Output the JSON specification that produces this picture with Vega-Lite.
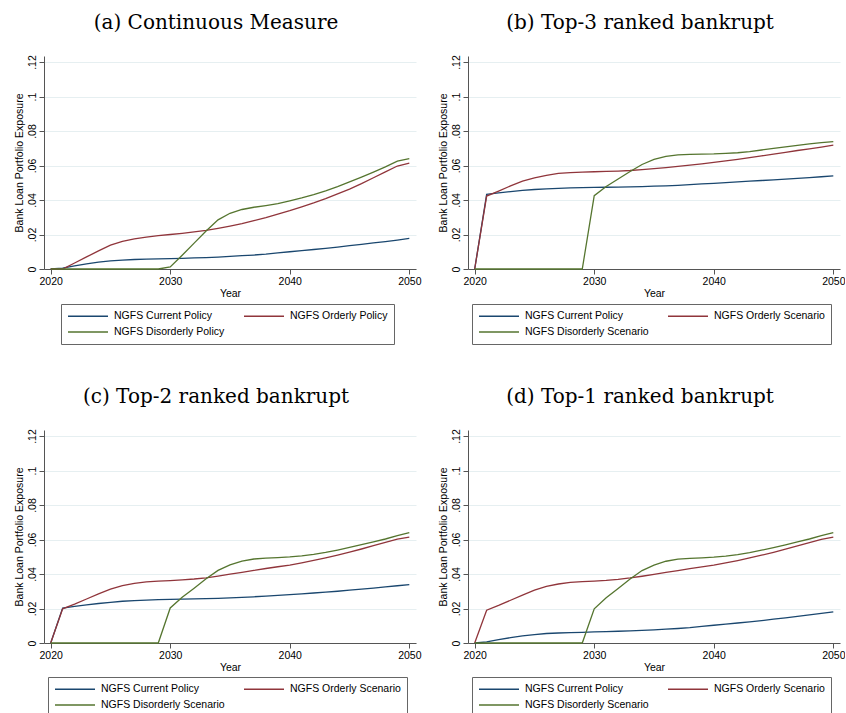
{
  "$schema": "https://vega.github.io/schema/vega-lite/v6.json",
  "background": "white",
  "padding": {"left": 14, "top": 12, "right": 0, "bottom": 0},
  "datasets": {
    "a": [
      {"Year":2020,"Series":"NGFS Current Policy","Exposure":0},
      {"Year":2021,"Series":"NGFS Current Policy","Exposure":0.0005},
      {"Year":2022,"Series":"NGFS Current Policy","Exposure":0.0018},
      {"Year":2023,"Series":"NGFS Current Policy","Exposure":0.003},
      {"Year":2024,"Series":"NGFS Current Policy","Exposure":0.004},
      {"Year":2025,"Series":"NGFS Current Policy","Exposure":0.0047},
      {"Year":2026,"Series":"NGFS Current Policy","Exposure":0.0052},
      {"Year":2027,"Series":"NGFS Current Policy","Exposure":0.0055},
      {"Year":2028,"Series":"NGFS Current Policy","Exposure":0.0057},
      {"Year":2029,"Series":"NGFS Current Policy","Exposure":0.0059},
      {"Year":2030,"Series":"NGFS Current Policy","Exposure":0.006},
      {"Year":2031,"Series":"NGFS Current Policy","Exposure":0.0062},
      {"Year":2032,"Series":"NGFS Current Policy","Exposure":0.0064},
      {"Year":2033,"Series":"NGFS Current Policy","Exposure":0.0066},
      {"Year":2034,"Series":"NGFS Current Policy","Exposure":0.0069},
      {"Year":2035,"Series":"NGFS Current Policy","Exposure":0.0073},
      {"Year":2036,"Series":"NGFS Current Policy","Exposure":0.0077},
      {"Year":2037,"Series":"NGFS Current Policy","Exposure":0.0081},
      {"Year":2038,"Series":"NGFS Current Policy","Exposure":0.0086},
      {"Year":2039,"Series":"NGFS Current Policy","Exposure":0.0093},
      {"Year":2040,"Series":"NGFS Current Policy","Exposure":0.01},
      {"Year":2041,"Series":"NGFS Current Policy","Exposure":0.0106},
      {"Year":2042,"Series":"NGFS Current Policy","Exposure":0.0113},
      {"Year":2043,"Series":"NGFS Current Policy","Exposure":0.012},
      {"Year":2044,"Series":"NGFS Current Policy","Exposure":0.0127},
      {"Year":2045,"Series":"NGFS Current Policy","Exposure":0.0135},
      {"Year":2046,"Series":"NGFS Current Policy","Exposure":0.0143},
      {"Year":2047,"Series":"NGFS Current Policy","Exposure":0.0151},
      {"Year":2048,"Series":"NGFS Current Policy","Exposure":0.0159},
      {"Year":2049,"Series":"NGFS Current Policy","Exposure":0.0168},
      {"Year":2050,"Series":"NGFS Current Policy","Exposure":0.0177},
      {"Year":2020,"Series":"NGFS Orderly Policy","Exposure":0},
      {"Year":2021,"Series":"NGFS Orderly Policy","Exposure":0},
      {"Year":2022,"Series":"NGFS Orderly Policy","Exposure":0.0035},
      {"Year":2023,"Series":"NGFS Orderly Policy","Exposure":0.007},
      {"Year":2024,"Series":"NGFS Orderly Policy","Exposure":0.0105},
      {"Year":2025,"Series":"NGFS Orderly Policy","Exposure":0.0138},
      {"Year":2026,"Series":"NGFS Orderly Policy","Exposure":0.016},
      {"Year":2027,"Series":"NGFS Orderly Policy","Exposure":0.0175},
      {"Year":2028,"Series":"NGFS Orderly Policy","Exposure":0.0185},
      {"Year":2029,"Series":"NGFS Orderly Policy","Exposure":0.0193},
      {"Year":2030,"Series":"NGFS Orderly Policy","Exposure":0.02},
      {"Year":2031,"Series":"NGFS Orderly Policy","Exposure":0.0207},
      {"Year":2032,"Series":"NGFS Orderly Policy","Exposure":0.0215},
      {"Year":2033,"Series":"NGFS Orderly Policy","Exposure":0.0224},
      {"Year":2034,"Series":"NGFS Orderly Policy","Exposure":0.0236},
      {"Year":2035,"Series":"NGFS Orderly Policy","Exposure":0.0249},
      {"Year":2036,"Series":"NGFS Orderly Policy","Exposure":0.0263},
      {"Year":2037,"Series":"NGFS Orderly Policy","Exposure":0.028},
      {"Year":2038,"Series":"NGFS Orderly Policy","Exposure":0.0298},
      {"Year":2039,"Series":"NGFS Orderly Policy","Exposure":0.0318},
      {"Year":2040,"Series":"NGFS Orderly Policy","Exposure":0.0338},
      {"Year":2041,"Series":"NGFS Orderly Policy","Exposure":0.036},
      {"Year":2042,"Series":"NGFS Orderly Policy","Exposure":0.0383},
      {"Year":2043,"Series":"NGFS Orderly Policy","Exposure":0.0408},
      {"Year":2044,"Series":"NGFS Orderly Policy","Exposure":0.0435},
      {"Year":2045,"Series":"NGFS Orderly Policy","Exposure":0.0463},
      {"Year":2046,"Series":"NGFS Orderly Policy","Exposure":0.0495},
      {"Year":2047,"Series":"NGFS Orderly Policy","Exposure":0.0529},
      {"Year":2048,"Series":"NGFS Orderly Policy","Exposure":0.0563},
      {"Year":2049,"Series":"NGFS Orderly Policy","Exposure":0.0597},
      {"Year":2050,"Series":"NGFS Orderly Policy","Exposure":0.0614},
      {"Year":2020,"Series":"NGFS Disorderly Policy","Exposure":0},
      {"Year":2021,"Series":"NGFS Disorderly Policy","Exposure":0},
      {"Year":2022,"Series":"NGFS Disorderly Policy","Exposure":0},
      {"Year":2023,"Series":"NGFS Disorderly Policy","Exposure":0},
      {"Year":2024,"Series":"NGFS Disorderly Policy","Exposure":0},
      {"Year":2025,"Series":"NGFS Disorderly Policy","Exposure":0},
      {"Year":2026,"Series":"NGFS Disorderly Policy","Exposure":0},
      {"Year":2027,"Series":"NGFS Disorderly Policy","Exposure":0},
      {"Year":2028,"Series":"NGFS Disorderly Policy","Exposure":0},
      {"Year":2029,"Series":"NGFS Disorderly Policy","Exposure":0},
      {"Year":2030,"Series":"NGFS Disorderly Policy","Exposure":0.0012},
      {"Year":2031,"Series":"NGFS Disorderly Policy","Exposure":0.008},
      {"Year":2032,"Series":"NGFS Disorderly Policy","Exposure":0.015},
      {"Year":2033,"Series":"NGFS Disorderly Policy","Exposure":0.022},
      {"Year":2034,"Series":"NGFS Disorderly Policy","Exposure":0.0285},
      {"Year":2035,"Series":"NGFS Disorderly Policy","Exposure":0.0323},
      {"Year":2036,"Series":"NGFS Disorderly Policy","Exposure":0.0345},
      {"Year":2037,"Series":"NGFS Disorderly Policy","Exposure":0.0358},
      {"Year":2038,"Series":"NGFS Disorderly Policy","Exposure":0.0368},
      {"Year":2039,"Series":"NGFS Disorderly Policy","Exposure":0.0379},
      {"Year":2040,"Series":"NGFS Disorderly Policy","Exposure":0.0395},
      {"Year":2041,"Series":"NGFS Disorderly Policy","Exposure":0.0412},
      {"Year":2042,"Series":"NGFS Disorderly Policy","Exposure":0.0431},
      {"Year":2043,"Series":"NGFS Disorderly Policy","Exposure":0.0453},
      {"Year":2044,"Series":"NGFS Disorderly Policy","Exposure":0.0478},
      {"Year":2045,"Series":"NGFS Disorderly Policy","Exposure":0.0505},
      {"Year":2046,"Series":"NGFS Disorderly Policy","Exposure":0.0533},
      {"Year":2047,"Series":"NGFS Disorderly Policy","Exposure":0.0562},
      {"Year":2048,"Series":"NGFS Disorderly Policy","Exposure":0.0592},
      {"Year":2049,"Series":"NGFS Disorderly Policy","Exposure":0.0625},
      {"Year":2050,"Series":"NGFS Disorderly Policy","Exposure":0.064}
    ],
    "b": [
      {"Year":2020,"Series":"NGFS Current Policy","Exposure":0},
      {"Year":2021,"Series":"NGFS Current Policy","Exposure":0.0433},
      {"Year":2022,"Series":"NGFS Current Policy","Exposure":0.0441},
      {"Year":2023,"Series":"NGFS Current Policy","Exposure":0.0449},
      {"Year":2024,"Series":"NGFS Current Policy","Exposure":0.0456},
      {"Year":2025,"Series":"NGFS Current Policy","Exposure":0.0461},
      {"Year":2026,"Series":"NGFS Current Policy","Exposure":0.0465},
      {"Year":2027,"Series":"NGFS Current Policy","Exposure":0.0468},
      {"Year":2028,"Series":"NGFS Current Policy","Exposure":0.047},
      {"Year":2029,"Series":"NGFS Current Policy","Exposure":0.0472},
      {"Year":2030,"Series":"NGFS Current Policy","Exposure":0.0473},
      {"Year":2031,"Series":"NGFS Current Policy","Exposure":0.0474},
      {"Year":2032,"Series":"NGFS Current Policy","Exposure":0.0475},
      {"Year":2033,"Series":"NGFS Current Policy","Exposure":0.0476},
      {"Year":2034,"Series":"NGFS Current Policy","Exposure":0.0478},
      {"Year":2035,"Series":"NGFS Current Policy","Exposure":0.048},
      {"Year":2036,"Series":"NGFS Current Policy","Exposure":0.0482},
      {"Year":2037,"Series":"NGFS Current Policy","Exposure":0.0485},
      {"Year":2038,"Series":"NGFS Current Policy","Exposure":0.0489},
      {"Year":2039,"Series":"NGFS Current Policy","Exposure":0.0493},
      {"Year":2040,"Series":"NGFS Current Policy","Exposure":0.0497},
      {"Year":2041,"Series":"NGFS Current Policy","Exposure":0.0501},
      {"Year":2042,"Series":"NGFS Current Policy","Exposure":0.0505},
      {"Year":2043,"Series":"NGFS Current Policy","Exposure":0.0509},
      {"Year":2044,"Series":"NGFS Current Policy","Exposure":0.0513},
      {"Year":2045,"Series":"NGFS Current Policy","Exposure":0.0517},
      {"Year":2046,"Series":"NGFS Current Policy","Exposure":0.0521},
      {"Year":2047,"Series":"NGFS Current Policy","Exposure":0.0526},
      {"Year":2048,"Series":"NGFS Current Policy","Exposure":0.053},
      {"Year":2049,"Series":"NGFS Current Policy","Exposure":0.0535},
      {"Year":2050,"Series":"NGFS Current Policy","Exposure":0.054},
      {"Year":2020,"Series":"NGFS Orderly Scenario","Exposure":0},
      {"Year":2021,"Series":"NGFS Orderly Scenario","Exposure":0.0423},
      {"Year":2022,"Series":"NGFS Orderly Scenario","Exposure":0.0452},
      {"Year":2023,"Series":"NGFS Orderly Scenario","Exposure":0.0482},
      {"Year":2024,"Series":"NGFS Orderly Scenario","Exposure":0.051},
      {"Year":2025,"Series":"NGFS Orderly Scenario","Exposure":0.0528},
      {"Year":2026,"Series":"NGFS Orderly Scenario","Exposure":0.0543},
      {"Year":2027,"Series":"NGFS Orderly Scenario","Exposure":0.0554},
      {"Year":2028,"Series":"NGFS Orderly Scenario","Exposure":0.0559},
      {"Year":2029,"Series":"NGFS Orderly Scenario","Exposure":0.0562},
      {"Year":2030,"Series":"NGFS Orderly Scenario","Exposure":0.0564},
      {"Year":2031,"Series":"NGFS Orderly Scenario","Exposure":0.0566},
      {"Year":2032,"Series":"NGFS Orderly Scenario","Exposure":0.0568},
      {"Year":2033,"Series":"NGFS Orderly Scenario","Exposure":0.0571},
      {"Year":2034,"Series":"NGFS Orderly Scenario","Exposure":0.0576},
      {"Year":2035,"Series":"NGFS Orderly Scenario","Exposure":0.0582},
      {"Year":2036,"Series":"NGFS Orderly Scenario","Exposure":0.0588},
      {"Year":2037,"Series":"NGFS Orderly Scenario","Exposure":0.0595},
      {"Year":2038,"Series":"NGFS Orderly Scenario","Exposure":0.0602},
      {"Year":2039,"Series":"NGFS Orderly Scenario","Exposure":0.061},
      {"Year":2040,"Series":"NGFS Orderly Scenario","Exposure":0.0618},
      {"Year":2041,"Series":"NGFS Orderly Scenario","Exposure":0.0627},
      {"Year":2042,"Series":"NGFS Orderly Scenario","Exposure":0.0636},
      {"Year":2043,"Series":"NGFS Orderly Scenario","Exposure":0.0646},
      {"Year":2044,"Series":"NGFS Orderly Scenario","Exposure":0.0656},
      {"Year":2045,"Series":"NGFS Orderly Scenario","Exposure":0.0666},
      {"Year":2046,"Series":"NGFS Orderly Scenario","Exposure":0.0676},
      {"Year":2047,"Series":"NGFS Orderly Scenario","Exposure":0.0687},
      {"Year":2048,"Series":"NGFS Orderly Scenario","Exposure":0.0697},
      {"Year":2049,"Series":"NGFS Orderly Scenario","Exposure":0.0707},
      {"Year":2050,"Series":"NGFS Orderly Scenario","Exposure":0.0718},
      {"Year":2020,"Series":"NGFS Disorderly Scenario","Exposure":0},
      {"Year":2021,"Series":"NGFS Disorderly Scenario","Exposure":0},
      {"Year":2022,"Series":"NGFS Disorderly Scenario","Exposure":0},
      {"Year":2023,"Series":"NGFS Disorderly Scenario","Exposure":0},
      {"Year":2024,"Series":"NGFS Disorderly Scenario","Exposure":0},
      {"Year":2025,"Series":"NGFS Disorderly Scenario","Exposure":0},
      {"Year":2026,"Series":"NGFS Disorderly Scenario","Exposure":0},
      {"Year":2027,"Series":"NGFS Disorderly Scenario","Exposure":0},
      {"Year":2028,"Series":"NGFS Disorderly Scenario","Exposure":0},
      {"Year":2029,"Series":"NGFS Disorderly Scenario","Exposure":0},
      {"Year":2030,"Series":"NGFS Disorderly Scenario","Exposure":0.0425},
      {"Year":2031,"Series":"NGFS Disorderly Scenario","Exposure":0.0478},
      {"Year":2032,"Series":"NGFS Disorderly Scenario","Exposure":0.0522},
      {"Year":2033,"Series":"NGFS Disorderly Scenario","Exposure":0.0565},
      {"Year":2034,"Series":"NGFS Disorderly Scenario","Exposure":0.0606},
      {"Year":2035,"Series":"NGFS Disorderly Scenario","Exposure":0.0635},
      {"Year":2036,"Series":"NGFS Disorderly Scenario","Exposure":0.0653},
      {"Year":2037,"Series":"NGFS Disorderly Scenario","Exposure":0.0662},
      {"Year":2038,"Series":"NGFS Disorderly Scenario","Exposure":0.0665},
      {"Year":2039,"Series":"NGFS Disorderly Scenario","Exposure":0.0666},
      {"Year":2040,"Series":"NGFS Disorderly Scenario","Exposure":0.0667},
      {"Year":2041,"Series":"NGFS Disorderly Scenario","Exposure":0.067},
      {"Year":2042,"Series":"NGFS Disorderly Scenario","Exposure":0.0674},
      {"Year":2043,"Series":"NGFS Disorderly Scenario","Exposure":0.0681},
      {"Year":2044,"Series":"NGFS Disorderly Scenario","Exposure":0.069},
      {"Year":2045,"Series":"NGFS Disorderly Scenario","Exposure":0.0699},
      {"Year":2046,"Series":"NGFS Disorderly Scenario","Exposure":0.0708},
      {"Year":2047,"Series":"NGFS Disorderly Scenario","Exposure":0.0717},
      {"Year":2048,"Series":"NGFS Disorderly Scenario","Exposure":0.0725},
      {"Year":2049,"Series":"NGFS Disorderly Scenario","Exposure":0.0733},
      {"Year":2050,"Series":"NGFS Disorderly Scenario","Exposure":0.0739}
    ],
    "c": [
      {"Year":2020,"Series":"NGFS Current Policy","Exposure":0},
      {"Year":2021,"Series":"NGFS Current Policy","Exposure":0.0203},
      {"Year":2022,"Series":"NGFS Current Policy","Exposure":0.0212},
      {"Year":2023,"Series":"NGFS Current Policy","Exposure":0.0221},
      {"Year":2024,"Series":"NGFS Current Policy","Exposure":0.0229},
      {"Year":2025,"Series":"NGFS Current Policy","Exposure":0.0236},
      {"Year":2026,"Series":"NGFS Current Policy","Exposure":0.0242},
      {"Year":2027,"Series":"NGFS Current Policy","Exposure":0.0246},
      {"Year":2028,"Series":"NGFS Current Policy","Exposure":0.0249},
      {"Year":2029,"Series":"NGFS Current Policy","Exposure":0.0251},
      {"Year":2030,"Series":"NGFS Current Policy","Exposure":0.0253},
      {"Year":2031,"Series":"NGFS Current Policy","Exposure":0.0254},
      {"Year":2032,"Series":"NGFS Current Policy","Exposure":0.0256},
      {"Year":2033,"Series":"NGFS Current Policy","Exposure":0.0257},
      {"Year":2034,"Series":"NGFS Current Policy","Exposure":0.0259},
      {"Year":2035,"Series":"NGFS Current Policy","Exposure":0.0262},
      {"Year":2036,"Series":"NGFS Current Policy","Exposure":0.0265},
      {"Year":2037,"Series":"NGFS Current Policy","Exposure":0.0268},
      {"Year":2038,"Series":"NGFS Current Policy","Exposure":0.0272},
      {"Year":2039,"Series":"NGFS Current Policy","Exposure":0.0276},
      {"Year":2040,"Series":"NGFS Current Policy","Exposure":0.028},
      {"Year":2041,"Series":"NGFS Current Policy","Exposure":0.0285},
      {"Year":2042,"Series":"NGFS Current Policy","Exposure":0.029},
      {"Year":2043,"Series":"NGFS Current Policy","Exposure":0.0295},
      {"Year":2044,"Series":"NGFS Current Policy","Exposure":0.03},
      {"Year":2045,"Series":"NGFS Current Policy","Exposure":0.0306},
      {"Year":2046,"Series":"NGFS Current Policy","Exposure":0.0312},
      {"Year":2047,"Series":"NGFS Current Policy","Exposure":0.0318},
      {"Year":2048,"Series":"NGFS Current Policy","Exposure":0.0325},
      {"Year":2049,"Series":"NGFS Current Policy","Exposure":0.0332},
      {"Year":2050,"Series":"NGFS Current Policy","Exposure":0.0339},
      {"Year":2020,"Series":"NGFS Orderly Scenario","Exposure":0},
      {"Year":2021,"Series":"NGFS Orderly Scenario","Exposure":0.0198},
      {"Year":2022,"Series":"NGFS Orderly Scenario","Exposure":0.0225},
      {"Year":2023,"Series":"NGFS Orderly Scenario","Exposure":0.0255},
      {"Year":2024,"Series":"NGFS Orderly Scenario","Exposure":0.0285},
      {"Year":2025,"Series":"NGFS Orderly Scenario","Exposure":0.0312},
      {"Year":2026,"Series":"NGFS Orderly Scenario","Exposure":0.0333},
      {"Year":2027,"Series":"NGFS Orderly Scenario","Exposure":0.0346},
      {"Year":2028,"Series":"NGFS Orderly Scenario","Exposure":0.0354},
      {"Year":2029,"Series":"NGFS Orderly Scenario","Exposure":0.0359},
      {"Year":2030,"Series":"NGFS Orderly Scenario","Exposure":0.0362},
      {"Year":2031,"Series":"NGFS Orderly Scenario","Exposure":0.0366},
      {"Year":2032,"Series":"NGFS Orderly Scenario","Exposure":0.0371},
      {"Year":2033,"Series":"NGFS Orderly Scenario","Exposure":0.0378},
      {"Year":2034,"Series":"NGFS Orderly Scenario","Exposure":0.0388},
      {"Year":2035,"Series":"NGFS Orderly Scenario","Exposure":0.0399},
      {"Year":2036,"Series":"NGFS Orderly Scenario","Exposure":0.041},
      {"Year":2037,"Series":"NGFS Orderly Scenario","Exposure":0.0421},
      {"Year":2038,"Series":"NGFS Orderly Scenario","Exposure":0.0432},
      {"Year":2039,"Series":"NGFS Orderly Scenario","Exposure":0.0442},
      {"Year":2040,"Series":"NGFS Orderly Scenario","Exposure":0.0452},
      {"Year":2041,"Series":"NGFS Orderly Scenario","Exposure":0.0465},
      {"Year":2042,"Series":"NGFS Orderly Scenario","Exposure":0.0479},
      {"Year":2043,"Series":"NGFS Orderly Scenario","Exposure":0.0494},
      {"Year":2044,"Series":"NGFS Orderly Scenario","Exposure":0.051},
      {"Year":2045,"Series":"NGFS Orderly Scenario","Exposure":0.0527},
      {"Year":2046,"Series":"NGFS Orderly Scenario","Exposure":0.0545},
      {"Year":2047,"Series":"NGFS Orderly Scenario","Exposure":0.0564},
      {"Year":2048,"Series":"NGFS Orderly Scenario","Exposure":0.0583},
      {"Year":2049,"Series":"NGFS Orderly Scenario","Exposure":0.0602},
      {"Year":2050,"Series":"NGFS Orderly Scenario","Exposure":0.0614},
      {"Year":2020,"Series":"NGFS Disorderly Scenario","Exposure":0},
      {"Year":2021,"Series":"NGFS Disorderly Scenario","Exposure":0},
      {"Year":2022,"Series":"NGFS Disorderly Scenario","Exposure":0},
      {"Year":2023,"Series":"NGFS Disorderly Scenario","Exposure":0},
      {"Year":2024,"Series":"NGFS Disorderly Scenario","Exposure":0},
      {"Year":2025,"Series":"NGFS Disorderly Scenario","Exposure":0},
      {"Year":2026,"Series":"NGFS Disorderly Scenario","Exposure":0},
      {"Year":2027,"Series":"NGFS Disorderly Scenario","Exposure":0},
      {"Year":2028,"Series":"NGFS Disorderly Scenario","Exposure":0},
      {"Year":2029,"Series":"NGFS Disorderly Scenario","Exposure":0},
      {"Year":2030,"Series":"NGFS Disorderly Scenario","Exposure":0.0203},
      {"Year":2031,"Series":"NGFS Disorderly Scenario","Exposure":0.0265},
      {"Year":2032,"Series":"NGFS Disorderly Scenario","Exposure":0.0318},
      {"Year":2033,"Series":"NGFS Disorderly Scenario","Exposure":0.0372},
      {"Year":2034,"Series":"NGFS Disorderly Scenario","Exposure":0.0421},
      {"Year":2035,"Series":"NGFS Disorderly Scenario","Exposure":0.0453},
      {"Year":2036,"Series":"NGFS Disorderly Scenario","Exposure":0.0475},
      {"Year":2037,"Series":"NGFS Disorderly Scenario","Exposure":0.0487},
      {"Year":2038,"Series":"NGFS Disorderly Scenario","Exposure":0.0492},
      {"Year":2039,"Series":"NGFS Disorderly Scenario","Exposure":0.0495},
      {"Year":2040,"Series":"NGFS Disorderly Scenario","Exposure":0.0499},
      {"Year":2041,"Series":"NGFS Disorderly Scenario","Exposure":0.0505},
      {"Year":2042,"Series":"NGFS Disorderly Scenario","Exposure":0.0514},
      {"Year":2043,"Series":"NGFS Disorderly Scenario","Exposure":0.0525},
      {"Year":2044,"Series":"NGFS Disorderly Scenario","Exposure":0.0539},
      {"Year":2045,"Series":"NGFS Disorderly Scenario","Exposure":0.0554},
      {"Year":2046,"Series":"NGFS Disorderly Scenario","Exposure":0.057},
      {"Year":2047,"Series":"NGFS Disorderly Scenario","Exposure":0.0586},
      {"Year":2048,"Series":"NGFS Disorderly Scenario","Exposure":0.0603},
      {"Year":2049,"Series":"NGFS Disorderly Scenario","Exposure":0.0622},
      {"Year":2050,"Series":"NGFS Disorderly Scenario","Exposure":0.064}
    ],
    "d": [
      {"Year":2020,"Series":"NGFS Current Policy","Exposure":0},
      {"Year":2021,"Series":"NGFS Current Policy","Exposure":0.0007},
      {"Year":2022,"Series":"NGFS Current Policy","Exposure":0.0019},
      {"Year":2023,"Series":"NGFS Current Policy","Exposure":0.0031},
      {"Year":2024,"Series":"NGFS Current Policy","Exposure":0.0041},
      {"Year":2025,"Series":"NGFS Current Policy","Exposure":0.0049},
      {"Year":2026,"Series":"NGFS Current Policy","Exposure":0.0055},
      {"Year":2027,"Series":"NGFS Current Policy","Exposure":0.0058},
      {"Year":2028,"Series":"NGFS Current Policy","Exposure":0.006},
      {"Year":2029,"Series":"NGFS Current Policy","Exposure":0.0062},
      {"Year":2030,"Series":"NGFS Current Policy","Exposure":0.0064},
      {"Year":2031,"Series":"NGFS Current Policy","Exposure":0.0066},
      {"Year":2032,"Series":"NGFS Current Policy","Exposure":0.0068},
      {"Year":2033,"Series":"NGFS Current Policy","Exposure":0.007},
      {"Year":2034,"Series":"NGFS Current Policy","Exposure":0.0073},
      {"Year":2035,"Series":"NGFS Current Policy","Exposure":0.0076},
      {"Year":2036,"Series":"NGFS Current Policy","Exposure":0.008},
      {"Year":2037,"Series":"NGFS Current Policy","Exposure":0.0084},
      {"Year":2038,"Series":"NGFS Current Policy","Exposure":0.0089},
      {"Year":2039,"Series":"NGFS Current Policy","Exposure":0.0096},
      {"Year":2040,"Series":"NGFS Current Policy","Exposure":0.0103},
      {"Year":2041,"Series":"NGFS Current Policy","Exposure":0.0109},
      {"Year":2042,"Series":"NGFS Current Policy","Exposure":0.0116},
      {"Year":2043,"Series":"NGFS Current Policy","Exposure":0.0123},
      {"Year":2044,"Series":"NGFS Current Policy","Exposure":0.013},
      {"Year":2045,"Series":"NGFS Current Policy","Exposure":0.0138},
      {"Year":2046,"Series":"NGFS Current Policy","Exposure":0.0146},
      {"Year":2047,"Series":"NGFS Current Policy","Exposure":0.0154},
      {"Year":2048,"Series":"NGFS Current Policy","Exposure":0.0163},
      {"Year":2049,"Series":"NGFS Current Policy","Exposure":0.0172},
      {"Year":2050,"Series":"NGFS Current Policy","Exposure":0.0181},
      {"Year":2020,"Series":"NGFS Orderly Scenario","Exposure":0},
      {"Year":2021,"Series":"NGFS Orderly Scenario","Exposure":0.019},
      {"Year":2022,"Series":"NGFS Orderly Scenario","Exposure":0.0218},
      {"Year":2023,"Series":"NGFS Orderly Scenario","Exposure":0.0248},
      {"Year":2024,"Series":"NGFS Orderly Scenario","Exposure":0.0278},
      {"Year":2025,"Series":"NGFS Orderly Scenario","Exposure":0.0306},
      {"Year":2026,"Series":"NGFS Orderly Scenario","Exposure":0.0328},
      {"Year":2027,"Series":"NGFS Orderly Scenario","Exposure":0.0342},
      {"Year":2028,"Series":"NGFS Orderly Scenario","Exposure":0.0351},
      {"Year":2029,"Series":"NGFS Orderly Scenario","Exposure":0.0356},
      {"Year":2030,"Series":"NGFS Orderly Scenario","Exposure":0.0359},
      {"Year":2031,"Series":"NGFS Orderly Scenario","Exposure":0.0363},
      {"Year":2032,"Series":"NGFS Orderly Scenario","Exposure":0.0369},
      {"Year":2033,"Series":"NGFS Orderly Scenario","Exposure":0.0377},
      {"Year":2034,"Series":"NGFS Orderly Scenario","Exposure":0.0387},
      {"Year":2035,"Series":"NGFS Orderly Scenario","Exposure":0.0398},
      {"Year":2036,"Series":"NGFS Orderly Scenario","Exposure":0.0409},
      {"Year":2037,"Series":"NGFS Orderly Scenario","Exposure":0.042},
      {"Year":2038,"Series":"NGFS Orderly Scenario","Exposure":0.0431},
      {"Year":2039,"Series":"NGFS Orderly Scenario","Exposure":0.0441},
      {"Year":2040,"Series":"NGFS Orderly Scenario","Exposure":0.0451},
      {"Year":2041,"Series":"NGFS Orderly Scenario","Exposure":0.0464},
      {"Year":2042,"Series":"NGFS Orderly Scenario","Exposure":0.0478},
      {"Year":2043,"Series":"NGFS Orderly Scenario","Exposure":0.0493},
      {"Year":2044,"Series":"NGFS Orderly Scenario","Exposure":0.0509},
      {"Year":2045,"Series":"NGFS Orderly Scenario","Exposure":0.0526},
      {"Year":2046,"Series":"NGFS Orderly Scenario","Exposure":0.0544},
      {"Year":2047,"Series":"NGFS Orderly Scenario","Exposure":0.0563},
      {"Year":2048,"Series":"NGFS Orderly Scenario","Exposure":0.0582},
      {"Year":2049,"Series":"NGFS Orderly Scenario","Exposure":0.0601},
      {"Year":2050,"Series":"NGFS Orderly Scenario","Exposure":0.0614},
      {"Year":2020,"Series":"NGFS Disorderly Scenario","Exposure":0},
      {"Year":2021,"Series":"NGFS Disorderly Scenario","Exposure":0},
      {"Year":2022,"Series":"NGFS Disorderly Scenario","Exposure":0},
      {"Year":2023,"Series":"NGFS Disorderly Scenario","Exposure":0},
      {"Year":2024,"Series":"NGFS Disorderly Scenario","Exposure":0},
      {"Year":2025,"Series":"NGFS Disorderly Scenario","Exposure":0},
      {"Year":2026,"Series":"NGFS Disorderly Scenario","Exposure":0},
      {"Year":2027,"Series":"NGFS Disorderly Scenario","Exposure":0},
      {"Year":2028,"Series":"NGFS Disorderly Scenario","Exposure":0},
      {"Year":2029,"Series":"NGFS Disorderly Scenario","Exposure":0},
      {"Year":2030,"Series":"NGFS Disorderly Scenario","Exposure":0.0198},
      {"Year":2031,"Series":"NGFS Disorderly Scenario","Exposure":0.0262},
      {"Year":2032,"Series":"NGFS Disorderly Scenario","Exposure":0.0316},
      {"Year":2033,"Series":"NGFS Disorderly Scenario","Exposure":0.0371},
      {"Year":2034,"Series":"NGFS Disorderly Scenario","Exposure":0.042},
      {"Year":2035,"Series":"NGFS Disorderly Scenario","Exposure":0.0452},
      {"Year":2036,"Series":"NGFS Disorderly Scenario","Exposure":0.0474},
      {"Year":2037,"Series":"NGFS Disorderly Scenario","Exposure":0.0486},
      {"Year":2038,"Series":"NGFS Disorderly Scenario","Exposure":0.0491},
      {"Year":2039,"Series":"NGFS Disorderly Scenario","Exposure":0.0494},
      {"Year":2040,"Series":"NGFS Disorderly Scenario","Exposure":0.0498},
      {"Year":2041,"Series":"NGFS Disorderly Scenario","Exposure":0.0504},
      {"Year":2042,"Series":"NGFS Disorderly Scenario","Exposure":0.0513},
      {"Year":2043,"Series":"NGFS Disorderly Scenario","Exposure":0.0524},
      {"Year":2044,"Series":"NGFS Disorderly Scenario","Exposure":0.0538},
      {"Year":2045,"Series":"NGFS Disorderly Scenario","Exposure":0.0553},
      {"Year":2046,"Series":"NGFS Disorderly Scenario","Exposure":0.0569},
      {"Year":2047,"Series":"NGFS Disorderly Scenario","Exposure":0.0586},
      {"Year":2048,"Series":"NGFS Disorderly Scenario","Exposure":0.0603},
      {"Year":2049,"Series":"NGFS Disorderly Scenario","Exposure":0.0622},
      {"Year":2050,"Series":"NGFS Disorderly Scenario","Exposure":0.064}
    ]
  },
  "columns": 2,
  "spacing": {"row": 41, "column": 17},
  "resolve": {"scale": {"color": "independent"}, "legend": {"color": "independent"}},
  "concat": [
    {
      "title": {"text": "(a) Continuous Measure"},
      "width": 372, "height": 213,
      "data": {"name": "a"},
      "mark": {"type": "line", "strokeWidth": 1.3},
      "encoding": {
        "x": {"field": "Year", "type": "quantitative", "scale": {"domain": [2019.44, 2050.56], "nice": false, "zero": false}, "axis": {"values": [2020, 2030, 2040, 2050], "format": "d", "title": "Year"}},
        "y": {"field": "Exposure", "type": "quantitative", "scale": {"domain": [0, 0.1235], "nice": false}, "axis": {"values": [0, 0.02, 0.04, 0.06, 0.08, 0.1, 0.12], "labelExpr": "datum.value == 0 ? '0' : replace(format(datum.value, '.2~f'), '0.', '.')", "title": "Bank Loan Portfolio Exposure"}},
        "color": {"field": "Series", "type": "nominal", "scale": {"domain": ["NGFS Current Policy", "NGFS Orderly Policy", "NGFS Disorderly Policy"], "range": ["#1a476f", "#90353b", "#55752f"]}, "legend": {"title": null, "orient": "none", "legendX": 17, "legendY": 248}}
      }
    },
    {
      "title": {"text": "(b) Top-3 ranked bankrupt"},
      "width": 372, "height": 213,
      "data": {"name": "b"},
      "mark": {"type": "line", "strokeWidth": 1.3},
      "encoding": {
        "x": {"field": "Year", "type": "quantitative", "scale": {"domain": [2019.44, 2050.56], "nice": false, "zero": false}, "axis": {"values": [2020, 2030, 2040, 2050], "format": "d", "title": "Year"}},
        "y": {"field": "Exposure", "type": "quantitative", "scale": {"domain": [0, 0.1235], "nice": false}, "axis": {"values": [0, 0.02, 0.04, 0.06, 0.08, 0.1, 0.12], "labelExpr": "datum.value == 0 ? '0' : replace(format(datum.value, '.2~f'), '0.', '.')", "title": "Bank Loan Portfolio Exposure"}},
        "color": {"field": "Series", "type": "nominal", "scale": {"domain": ["NGFS Current Policy", "NGFS Orderly Scenario", "NGFS Disorderly Scenario"], "range": ["#1a476f", "#90353b", "#55752f"]}, "legend": {"title": null, "orient": "none", "legendX": 4, "legendY": 248}}
      }
    },
    {
      "title": {"text": "(c) Top-2 ranked bankrupt"},
      "width": 372, "height": 213,
      "data": {"name": "c"},
      "mark": {"type": "line", "strokeWidth": 1.3},
      "encoding": {
        "x": {"field": "Year", "type": "quantitative", "scale": {"domain": [2019.44, 2050.56], "nice": false, "zero": false}, "axis": {"values": [2020, 2030, 2040, 2050], "format": "d", "title": "Year"}},
        "y": {"field": "Exposure", "type": "quantitative", "scale": {"domain": [0, 0.1235], "nice": false}, "axis": {"values": [0, 0.02, 0.04, 0.06, 0.08, 0.1, 0.12], "labelExpr": "datum.value == 0 ? '0' : replace(format(datum.value, '.2~f'), '0.', '.')", "title": "Bank Loan Portfolio Exposure"}},
        "color": {"field": "Series", "type": "nominal", "scale": {"domain": ["NGFS Current Policy", "NGFS Orderly Scenario", "NGFS Disorderly Scenario"], "range": ["#1a476f", "#90353b", "#55752f"]}, "legend": {"title": null, "orient": "none", "legendX": 4, "legendY": 247}}
      }
    },
    {
      "title": {"text": "(d) Top-1 ranked bankrupt"},
      "width": 372, "height": 213,
      "data": {"name": "d"},
      "mark": {"type": "line", "strokeWidth": 1.3},
      "encoding": {
        "x": {"field": "Year", "type": "quantitative", "scale": {"domain": [2019.44, 2050.56], "nice": false, "zero": false}, "axis": {"values": [2020, 2030, 2040, 2050], "format": "d", "title": "Year"}},
        "y": {"field": "Exposure", "type": "quantitative", "scale": {"domain": [0, 0.1235], "nice": false}, "axis": {"values": [0, 0.02, 0.04, 0.06, 0.08, 0.1, 0.12], "labelExpr": "datum.value == 0 ? '0' : replace(format(datum.value, '.2~f'), '0.', '.')", "title": "Bank Loan Portfolio Exposure"}},
        "color": {"field": "Series", "type": "nominal", "scale": {"domain": ["NGFS Current Policy", "NGFS Orderly Scenario", "NGFS Disorderly Scenario"], "range": ["#1a476f", "#90353b", "#55752f"]}, "legend": {"title": null, "orient": "none", "legendX": 4, "legendY": 247}}
      }
    }
  ],
  "config": {
    "font": "Liberation Sans",
    "view": {"stroke": null},
    "title": {"font": "DejaVu Serif", "fontSize": 20, "fontWeight": "normal", "color": "#000000", "anchor": "middle", "dx": -14, "offset": 22},
    "axis": {"domainColor": "#555555", "tickColor": "#555555", "tickSize": 5, "labelColor": "#000000", "titleColor": "#000000", "labelFont": "Liberation Sans", "titleFont": "Liberation Sans", "labelFontSize": 10.5, "titleFontSize": 10.5, "titleFontWeight": "normal", "labelFlush": false, "labelOverlap": false},
    "axisX": {"grid": false, "labelPadding": 2, "titlePadding": 2},
    "axisY": {"grid": true, "gridColor": "#E6EFF1", "gridWidth": 1, "labelAngle": -90, "labelAlign": "center", "labelBaseline": "bottom", "labelPadding": 2, "titlePadding": 3},
    "legend": {"direction": "horizontal", "columns": 2, "columnPadding": 16, "rowPadding": 4, "padding": 6, "strokeColor": "#666666", "fillColor": "#ffffff", "symbolType": "M-4,0H4", "symbolSize": 100, "symbolStrokeWidth": 1.3, "symbolOffset": 15, "labelFont": "Liberation Sans", "labelFontSize": 10.5, "labelColor": "#000000", "labelOffset": 20, "labelLimit": 300},
    "concat": {"spacing": 17}
  }
}
